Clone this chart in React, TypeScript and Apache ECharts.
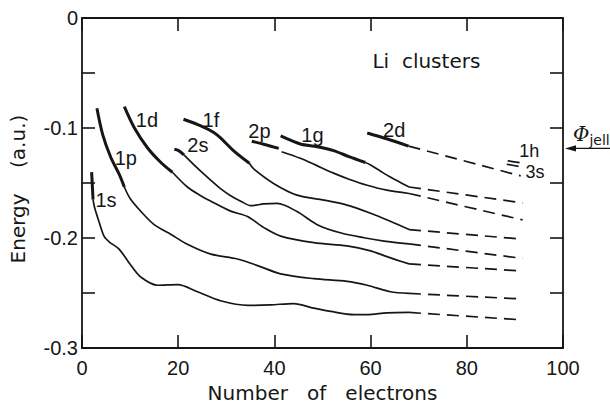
import React, { useEffect, useRef } from "react";
import * as echarts from "echarts";

const INK = "#161616";

// Axis ranges / ticks
const X_MIN = 0, X_MAX = 100, X_STEP = 20;
const Y_MIN = -0.3, Y_MAX = 0, Y_STEP = 0.05;

// Work function of the jellium (arrow on the right axis)
const PHI_JELL = -0.1185;

// Levels: occupied (thick), unoccupied (thin), extrapolated (dashed)
const s1Thick = [[2.0, -0.140], [2.3, -0.165]];
const s1Thin = [[2.3, -0.165], [2.6, -0.172], [3.6, -0.186], [4.6, -0.1985], [5.7, -0.2036], [7.7, -0.210], [10.2, -0.225], [12.2, -0.2354], [15.7, -0.2429], [19.9, -0.2423], [24, -0.2488], [28.8, -0.257], [34.5, -0.2612], [39.2, -0.2607], [44, -0.2595], [48.2, -0.2637], [51.7, -0.2667], [56.5, -0.2696], [59.3, -0.2696], [63.4, -0.268], [68, -0.2676]];
const s1Dash = [[68, -0.2676], [91.6, -0.2744]];

const p1Thick = [[3.1, -0.0821], [4.3, -0.106], [6.0, -0.1268], [7.7, -0.1417], [8.8, -0.1536]];
const p1Thin = [[8.8, -0.1536], [10, -0.164], [12.5, -0.177], [15, -0.1878], [18.5, -0.1967], [21.9, -0.2056], [26.8, -0.2146], [32.3, -0.219], [36.5, -0.225], [41.3, -0.2325], [48.2, -0.2369], [55.1, -0.2393], [59.3, -0.2429], [64.1, -0.2488], [68, -0.2503]];
const p1Dash = [[68, -0.2503], [91.6, -0.2554]];

const d1Thick = [[8.8, -0.0806], [10.9, -0.1], [13.6, -0.1179], [16.4, -0.1313], [18.8, -0.1402]];
const d1Thin = [[18.8, -0.1402], [21.9, -0.1536], [24.5, -0.161], [26.8, -0.1665], [30.9, -0.1755], [34.4, -0.1804], [37.8, -0.1905], [41.3, -0.1982], [48.2, -0.2042], [55.1, -0.2071], [60, -0.2116], [62.8, -0.216], [65.5, -0.220], [68, -0.2235]];
const d1Dash = [[68, -0.2235], [91.6, -0.230]];

const s2Thick = [[19.2, -0.1193], [20.1, -0.1205], [21.2, -0.1244]];
const s2Thin = [[21.2, -0.1244], [24, -0.1365], [26.8, -0.1476], [28.8, -0.155], [30.9, -0.1615], [33, -0.1665], [35.1, -0.1705], [37.8, -0.169], [40.6, -0.1685], [44.7, -0.1759], [48.9, -0.1878], [53.7, -0.1952], [58.6, -0.1997], [62.8, -0.2027], [68, -0.2053]];
const s2Dash = [[68, -0.2053], [91.6, -0.2185]];

const f1Thick = [[21.1, -0.092], [24.7, -0.098], [27.4, -0.104], [28.8, -0.109], [31.6, -0.121], [34.8, -0.132]];
const f1Thin = [[34.8, -0.132], [35.7, -0.1372], [39.9, -0.1506], [44.7, -0.161], [50.3, -0.1655], [55.1, -0.17], [60, -0.1774], [64.1, -0.1848], [68, -0.1923]];
const f1Dash = [[68, -0.1923], [91.6, -0.201]];

const p2Thick = [[35.3, -0.112], [38, -0.115], [40.9, -0.1185]];
const p2Thin = [[41.5, -0.1215], [45.4, -0.1275], [48.5, -0.1335], [52.3, -0.141], [55.5, -0.1465], [59.3, -0.152], [63.4, -0.1565], [68, -0.1595]];
const p2Dash = [[68, -0.1595], [91.6, -0.1835]];

const g1Thick = [[41.3, -0.1072], [45.4, -0.1145], [48.9, -0.117], [52.3, -0.1205], [55.5, -0.126], [58.9, -0.1313]];
const g1Thin = [[58.9, -0.1313], [60, -0.1335], [62, -0.139], [64.1, -0.1446], [66, -0.149], [68, -0.1536]];
const g1Dash = [[68, -0.1536], [91.6, -0.168]];

const d2Thick = [[59.3, -0.1045], [63.5, -0.110], [67.9, -0.1164]];
const d2Dash = [[67.9, -0.1164], [91.2, -0.1435]];

const h1Dash = [[88.5, -0.1298], [91.2, -0.1316]];
const s3Dash = [[88.3, -0.1329], [91.2, -0.1352]];

// Level labels (text, N, E)
const LEVEL_LABELS = [
  ["1s", 5.0, -0.1655],
  ["1p", 9.1, -0.1268],
  ["1d", 13.5, -0.0929],
  ["2s", 24.1, -0.1152],
  ["1f", 26.8, -0.0929],
  ["2p", 36.9, -0.1027],
  ["1g", 47.9, -0.1063],
  ["2d", 64.9, -0.1018],
];
const END_LABELS = [
  ["1h", 93.0, -0.1205],
  ["3s", 94.2, -0.1402],
];
const TITLE_LABEL = ["Li  clusters", 71.6, -0.0393];

const THICK = [s1Thick, p1Thick, d1Thick, s2Thick, f1Thick, p2Thick, g1Thick, d2Thick];
const THIN = [s1Thin, p1Thin, d1Thin, s2Thin, f1Thin, p2Thin, g1Thin];
const DASH = [s1Dash, p1Dash, d1Dash, s2Dash, f1Dash, p2Dash, g1Dash, d2Dash, h1Dash, s3Dash];

const LABEL_FONT = "'Liberation Sans', Arial, sans-serif";
const TITLE_FONT = "'DejaVu Sans', sans-serif";

export default function App() {
  const ref = useRef<HTMLDivElement>(null);

  useEffect(() => {
    if (!ref.current) return;
    const chart = echarts.init(ref.current, undefined, { renderer: "svg" });

    const lineSeries = (data: number[][], width: number, dash?: number[]) => ({
      type: "line",
      data,
      showSymbol: false,
      symbol: "none",
      smooth: 0.3,
      silent: true,
      clip: false,
      lineStyle: { color: INK, width, type: dash ? dash : "solid", cap: "butt" },
      z: 3,
    });

    const yFmt = (v: number) => {
      const t = Math.round(v * 100);
      if (t % 10 !== 0) return "";
      if (t === 0) return "0";
      return (t / 100).toFixed(1);
    };

    const axisCommon = {
      axisLine: { show: true, onZero: false, lineStyle: { color: INK, width: 1.8 } },
      axisTick: { show: true, inside: true, length: 13, lineStyle: { color: INK, width: 1.6 } },
      splitLine: { show: false },
    };

    const option: any = {
      animation: false,
      backgroundColor: "#ffffff",
      grid: { left: 81, top: 18, right: 47, bottom: 54, containLabel: false },
      xAxis: [
        {
          type: "value",
          min: X_MIN,
          max: X_MAX,
          interval: X_STEP,
          position: "bottom",
          name: "Number   of   electrons",
          nameLocation: "middle",
          nameGap: 33,
          nameTextStyle: { color: INK, fontSize: 20, fontFamily: TITLE_FONT },
          axisLabel: { color: INK, fontSize: 20, fontFamily: LABEL_FONT, margin: 10 },
          ...axisCommon,
        },
        {
          type: "value",
          min: X_MIN,
          max: X_MAX,
          interval: X_STEP,
          position: "top",
          axisLabel: { show: false },
          ...axisCommon,
        },
      ],
      yAxis: [
        {
          type: "value",
          min: Y_MIN,
          max: Y_MAX,
          interval: Y_STEP,
          position: "left",
          name: "Energy    (a.u.)",
          nameLocation: "middle",
          nameRotate: 90,
          nameGap: 54,
          nameTextStyle: { color: INK, fontSize: 20, fontFamily: TITLE_FONT, padding: [0, 12, 0, 0] },
          axisLabel: { color: INK, fontSize: 20, fontFamily: LABEL_FONT, margin: 4, formatter: yFmt },
          ...axisCommon,
        },
        {
          type: "value",
          min: Y_MIN,
          max: Y_MAX,
          interval: Y_STEP,
          position: "right",
          axisLabel: { show: false },
          ...axisCommon,
        },
      ],
      series: [
        ...THICK.map((d) => lineSeries(d, 3)),
        ...THIN.map((d) => lineSeries(d, 1.7)),
        ...DASH.map((d) => lineSeries(d, 1.7, [12, 7])),
      ],
    };

    chart.setOption(option);

    const toPx = (x: number, y: number) =>
      chart.convertToPixel({ xAxisIndex: 0, yAxisIndex: 0 }, [x, y]) as number[];

    const makeText = (t: string, x: number, y: number, size: number, font: string) => {
      const p = toPx(x, y);
      return {
        type: "text",
        x: p[0],
        y: p[1],
        z: 10,
        style: {
          text: t,
          fill: INK,
          fontSize: size,
          lineHeight: size,
          fontFamily: font,
          align: "center",
          verticalAlign: "middle",
        },
      };
    };

    const pt = toPx(X_MAX, PHI_JELL);
    const ax = pt[0];
    const ay = pt[1];
    chart.setOption({
      graphic: [
        ...LEVEL_LABELS.map(([t, x, y]) => makeText(t as string, x as number, y as number, 20, LABEL_FONT)),
        ...END_LABELS.map(([t, x, y]) => makeText(t as string, x as number, y as number, 18, LABEL_FONT)),
        makeText(TITLE_LABEL[0] as string, TITLE_LABEL[1] as number, TITLE_LABEL[2] as number, 20, TITLE_FONT),
        {
          type: "line",
          shape: { x1: ax + 10, y1: ay, x2: 610, y2: ay },
          style: { stroke: INK, lineWidth: 1.3 },
        },
        {
          type: "polygon",
          shape: { points: [[ax + 2, ay], [ax + 13, ay - 3.2], [ax + 13, ay + 3.2]] },
          style: { fill: INK },
        },
        {
          type: "text",
          x: ax + 10,
          y: ay - 4,
          style: {
            text: "{p|Φ}{s|jell}",
            verticalAlign: "bottom",
            rich: {
              p: { fontSize: 20, fontStyle: "italic", fontFamily: "'DejaVu Serif', serif", fill: INK, verticalAlign: "bottom", lineHeight: 22 },
              s: { fontSize: 14, fontFamily: TITLE_FONT, fill: INK, verticalAlign: "bottom", lineHeight: 22, padding: [0, 0, -3, 0] },
            },
          },
        },
      ],
    });

    return () => chart.dispose();
  }, []);

  return (
    <div
      ref={ref}
      style={{ position: "fixed", left: 0, top: 0, width: 610, height: 408, background: "#fff" }}
    />
  );
}
